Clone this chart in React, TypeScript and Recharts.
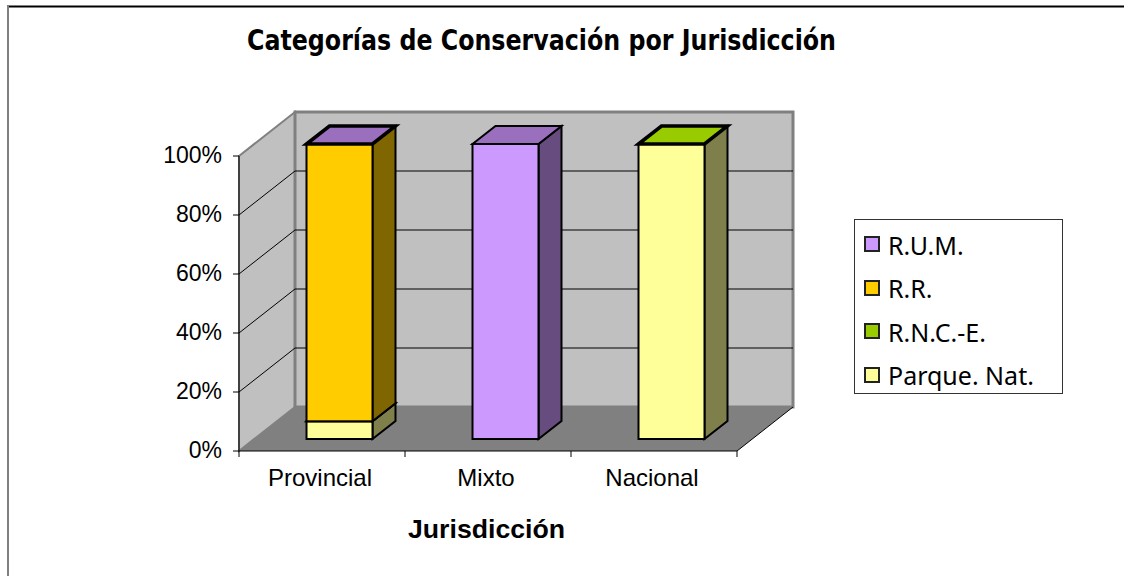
import React from 'react';
import { BarChart, Bar, XAxis, YAxis, Legend } from 'recharts';

const categories = ['Provincial', 'Mixto', 'Nacional'];
const parqueNat = [6, null, 100];
const rnce = [null, null, 0];
const rr = [94, null, null];
const rum = [0, 100, null];
const yTicks = [0, 20, 40, 60, 80, 100];

const chartData = categories.map((name, i) => ({
  name,
  parque: parqueNat[i],
  rnce: rnce[i],
  rr: rr[i],
  rum: rum[i],
}));

const series = [
  { key: 'parque', label: 'Parque. Nat.', fill: '#FFFF99', side: '#7F7F4C', lid: '#FFFF99' },
  { key: 'rnce', label: 'R.N.C.-E.', fill: '#99CC00', side: '#4C6600', lid: '#99CC00' },
  { key: 'rr', label: 'R.R.', fill: '#FFCC00', side: '#7F6600', lid: '#FFCC00' },
  { key: 'rum', label: 'R.U.M.', fill: '#CC99FF', side: '#664C7F', lid: '#9A70BE' },
];

const left = 239;
const right = 737;
const top = 156;
const bottom = 451;
const wallDx = 56;
const wallDy = -44;
const barDx = 23;
const barDy = -18;
const barShiftX = 17.5;
const barShiftY = -12;

const tickY = (v: number) => bottom - ((bottom - top) * v) / 100;

function pts(list: number[][]) {
  return list.map((p) => p.join(',')).join(' ');
}

function Box(props: any) {
  const { x, y, width, height, payload, dataKey, fill, side, lid } = props;
  if (payload[dataKey] === null || payload[dataKey] === undefined) return null;
  const x0 = x + barShiftX;
  const y0 = y + barShiftY;
  const x1 = x0 + width;
  const y1 = y0 + height;
  const flat = height < 1;
  return (
    <g stroke="#000" strokeWidth={flat ? 3.5 : 2} strokeLinejoin="miter">
      {!flat && (
        <polygon
          fill={side}
          points={pts([[x1, y0], [x1 + barDx, y0 + barDy], [x1 + barDx, y1 + barDy], [x1, y1]])}
        />
      )}
      {!flat && <rect x={x0} y={y0} width={width} height={height} fill={fill} />}
      <polygon
        fill={lid}
        points={pts([[x0, y0], [x0 + barDx, y0 + barDy], [x1 + barDx, y0 + barDy], [x1, y0]])}
      />
    </g>
  );
}

function Walls() {
  const backL = left + wallDx;
  const backR = right + wallDx;
  const backT = top + wallDy;
  const backB = bottom + wallDy;
  const band = (right - left) / categories.length;
  return (
    <g>
      <polygon
        fill="#C0C0C0"
        stroke="#808080"
        strokeWidth={2}
        points={pts([[left, top], [backL, backT], [backL, backB], [left, bottom]])}
      />
      <rect x={backL} y={backT} width={backR - backL} height={backB - backT} fill="#C0C0C0" stroke="#808080" strokeWidth={3} />
      <polygon fill="#808080" points={pts([[left, bottom], [backL, backB], [backR, backB], [right, bottom]])} />
      {yTicks.slice(1, 5).map((v) => (
        <g key={v} stroke="#000" strokeWidth={1}>
          <line x1={left} y1={tickY(v)} x2={backL} y2={tickY(v) + wallDy} />
          <line x1={backL} y1={tickY(v) + wallDy} x2={backR} y2={tickY(v) + wallDy} />
        </g>
      ))}
      <line x1={right} y1={bottom} x2={backR} y2={backB} stroke="#000" strokeWidth={1} />
      {[0, 1, 2, 3].map((i) => (
        <line key={i} x1={left + i * band} y1={bottom} x2={left + i * band} y2={bottom + 6} stroke="#000" strokeWidth={1} />
      ))}
    </g>
  );
}

function LegendBox() {
  const items = [...series].reverse();
  return (
    <div
      style={{
        width: 209,
        height: 175,
        boxSizing: 'border-box',
        border: '1px solid #333',
        background: '#fff',
        position: 'relative',
      }}
    >
      {items.map((s, i) => (
        <div key={s.key}>
          <div
            style={{
              position: 'absolute',
              left: 9,
              top: 16 + i * 43.7,
              width: 12,
              height: 12,
              background: s.fill,
              border: '2px solid #222',
            }}
          />
          <div
            style={{
              position: 'absolute',
              left: 33,
              top: 12 + i * 43.3,
              fontFamily: 'Noto Sans',
              fontSize: 25,
              lineHeight: '26px',
              color: '#000',
              whiteSpace: 'nowrap',
            }}
          >
            {s.label}
          </div>
        </div>
      ))}
    </div>
  );
}

export default function App() {
  const xTickStyle = { fontFamily: 'Liberation Sans', fontSize: 24, fill: '#000', dx: -2 };
  const yTickStyle = { fontFamily: 'Liberation Sans', fontSize: 23, fill: '#000', dy: -1 };
  return (
    <div style={{ position: 'absolute', left: 0, top: 0, width: 1124, height: 576, background: '#fff' }}>
      <BarChart
        width={1124}
        height={576}
        data={chartData}
        stackOffset="none"
        barSize={66}
        margin={{ top, left: 0, right: 1124 - right, bottom: 0 }}
      >
        <line x1={7} y1={6.5} x2={1124} y2={6.5} stroke="#000" strokeWidth={2} />
        <line x1={8} y1={6} x2={8} y2={576} stroke="#808080" strokeWidth={2} />
        <Walls />
        <text x={541.5} y={50} textAnchor="middle" fontFamily="DejaVu Sans" fontWeight="bold" fontSize={28} textLength={589} lengthAdjust="spacingAndGlyphs">
          Categorías de Conservación por Jurisdicción
        </text>
        <text x={486.5} y={538} textAnchor="middle" fontFamily="Liberation Sans" fontWeight="bold" fontSize={25} textLength={157} lengthAdjust="spacingAndGlyphs">
          Jurisdicción
        </text>
        <XAxis
          dataKey="name"
          height={125}
          axisLine={{ stroke: '#000', strokeWidth: 1 }}
          tickLine={false}
          tickSize={6}
          tick={xTickStyle}
          tickMargin={12}
          interval={0}
        />
        <YAxis
          width={left}
          domain={[0, 100]}
          ticks={yTicks}
          tickFormatter={(v) => `${v}%`}
          axisLine={{ stroke: '#000', strokeWidth: 1 }}
          tickLine={{ stroke: '#000', strokeWidth: 1 }}
          tickSize={6}
          tick={yTickStyle}
          tickMargin={11}
        />
        {series.map((s) => (
          <Bar
            key={s.key}
            dataKey={s.key}
            name={s.label}
            stackId="a"
            fill={s.fill}
            isAnimationActive={false}
            shape={(p: any) => <Box {...p} dataKey={s.key} side={s.side} lid={s.lid} fill={s.fill} />}
          />
        ))}
        <Legend
          layout="vertical"
          align="center"
          verticalAlign="middle"
          wrapperStyle={{ left: 854, top: 219, width: 209 }}
          content={() => <LegendBox />}
        />
      </BarChart>
    </div>
  );
}
